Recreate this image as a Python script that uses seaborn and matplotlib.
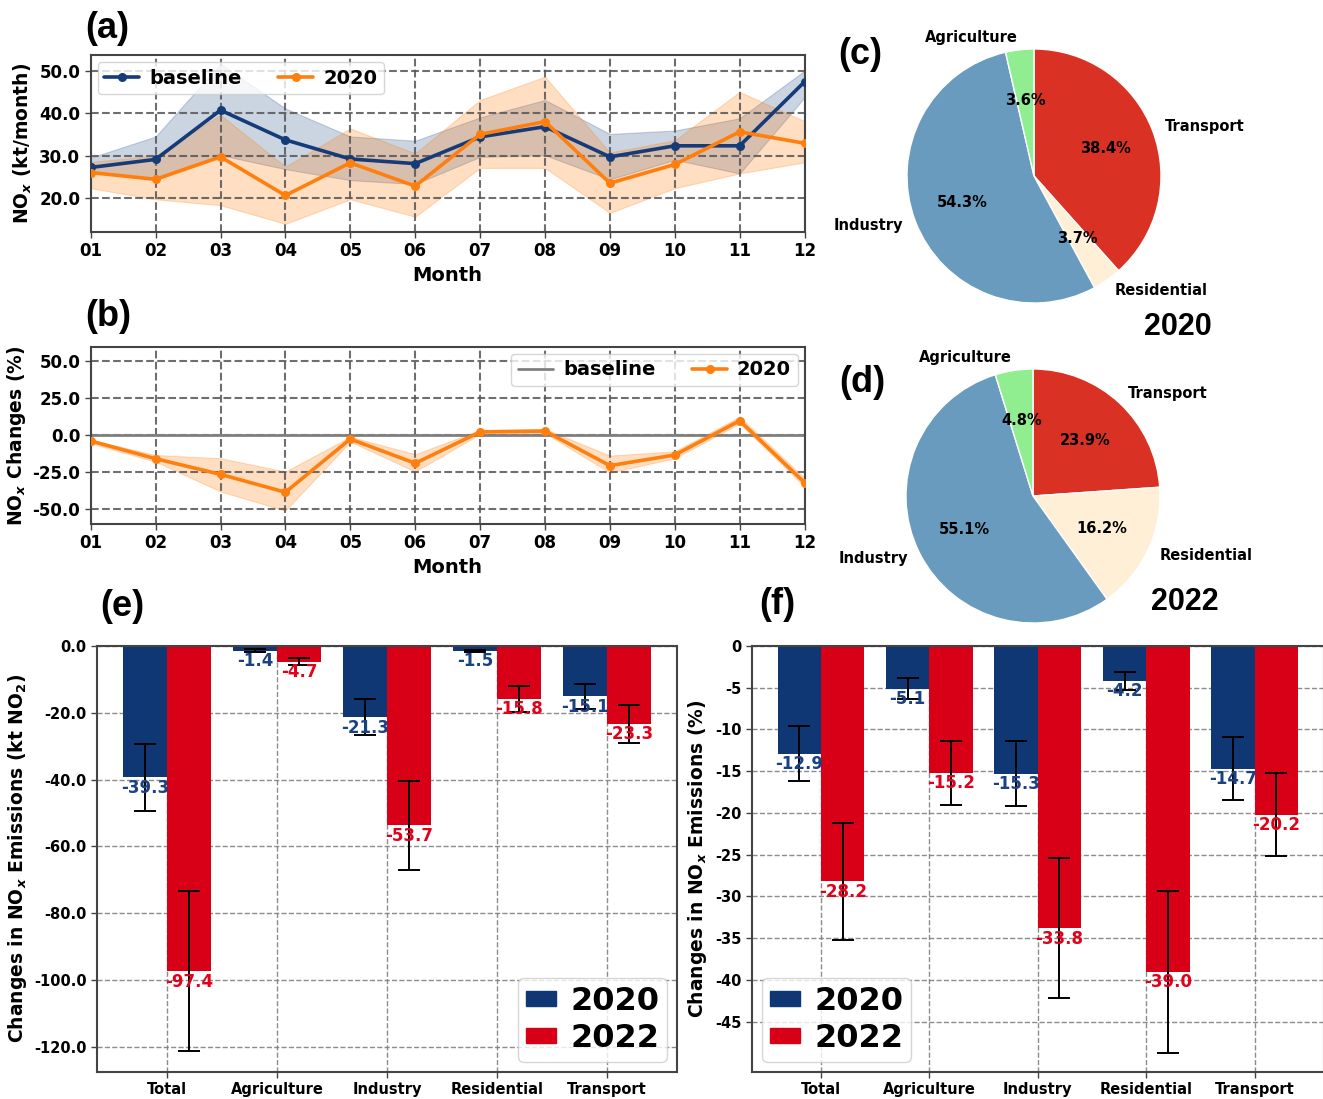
import numpy as np
import pandas as pd
import matplotlib
matplotlib.use("Agg")
import matplotlib.pyplot as plt
from matplotlib.patches import Patch
from matplotlib.ticker import FormatStrFormatter
import seaborn as sns

# ---------------- monthly NOx emissions (kt/month) ----------------
months = np.arange(1, 13)
month_labels = ["01", "02", "03", "04", "05", "06", "07", "08", "09", "10", "11", "12"]

base_mean = [27.2, 29.1, 40.7, 33.7, 29.2, 28.1, 34.4, 36.8, 29.7, 32.3, 32.3, 47.4]
base_hi = [29.5, 34.5, 51.6, 41.1, 34.5, 33.5, 39.0, 43.1, 35.1, 35.9, 38.8, 50.0]
base_lo = [26.2, 24.6, 30.1, 26.8, 24.2, 23.3, 29.7, 30.1, 24.4, 29.0, 25.8, 43.7]

y2020_mean = [26.0, 24.4, 29.7, 20.6, 28.3, 22.8, 35.0, 38.0, 23.5, 27.9, 35.6, 32.9]
y2020_hi = [28.5, 30.0, 39.6, 27.4, 36.4, 30.5, 43.1, 48.6, 30.7, 33.6, 45.0, 38.1]
y2020_lo = [22.3, 19.7, 18.3, 13.9, 19.7, 15.6, 27.1, 27.1, 16.5, 22.3, 25.8, 28.4]

# ---------------- relative change 2020 vs baseline (%) ----------------
change_mean = [-3.8, -15.8, -26.4, -38.5, -2.5, -18.9, 2.3, 2.9, -20.5, -13.3, 9.9, -32.0]
change_hi = [-3.0, -13.3, -15.5, -24.5, -1.0, -12.8, 3.6, 4.3, -13.7, -10.8, 12.6, -29.0]
change_lo = [-5.4, -17.8, -38.0, -50.9, -4.3, -24.5, 0.9, 1.4, -25.2, -15.5, 8.1, -34.7]

# ---------------- sector shares (%) ----------------
pie_labels = ["Transport", "Residential", "Industry", "Agriculture"]
share_2020 = [38.4, 3.7, 54.3, 3.6]
share_2022 = [23.9, 16.2, 55.1, 4.8]
pie_colors = ["#D93225", "#FEEFD6", "#689BBD", "#90EE90"]

# ---------------- emission changes by sector ----------------
sectors = ["Total", "Agriculture", "Industry", "Residential", "Transport"]
abs_2020 = [-39.3, -1.4, -21.3, -1.5, -15.1]
abs_2022 = [-97.4, -4.7, -53.7, -15.8, -23.3]
abs_err_2020 = [10.0, 0.4, 5.4, 0.4, 3.8]
abs_err_2022 = [24.0, 1.1, 13.3, 3.9, 5.7]

pct_2020 = [-12.9, -5.1, -15.3, -4.2, -14.7]
pct_2022 = [-28.2, -15.2, -33.8, -39.0, -20.2]
pct_err_2020 = [3.3, 1.3, 3.9, 1.05, 3.75]
pct_err_2022 = [7.0, 3.8, 8.4, 9.7, 5.0]

NAVY = "#153C78"
ORANGE = "#FF7F0E"
BAR_2020 = "#0F3773"
BAR_2022 = "#D80016"
TXT_2020 = "#1A4282"
TXT_2022 = "#E2001A"

sns.set_style("ticks")
plt.rcParams["font.family"] = ["DejaVu Sans"]
plt.rcParams["font.weight"] = "bold"
plt.rcParams["axes.labelweight"] = "bold"
plt.rcParams["mathtext.default"] = "it"
for key in ("text.color", "axes.labelcolor", "xtick.labelcolor", "ytick.labelcolor"):
    plt.rcParams[key] = "black"

W, H, DPI = 1323, 1099, 100
fig = plt.figure(figsize=(W / DPI, H / DPI), dpi=DPI)


def axes_px(left, top, right, bottom):
    return fig.add_axes([left / W, 1 - bottom / H, (right - left) / W, (bottom - top) / H])


def style_month_axes(ax, ylabel, label_x):
    ax.grid(True, ls="--", color="#555555", lw=1.5, alpha=0.85)
    ax.set_axisbelow("line")
    for s in ax.spines.values():
        s.set_visible(True)
        s.set_color("#444444")
        s.set_linewidth(1.5)
    ax.tick_params(labelsize=12, length=4, width=1, color="#444444", labelcolor="black")
    ax.set_xlim(1, 12)
    ax.set_xticks(months)
    ax.set_xticklabels(month_labels)
    ax.set_xlabel("Month", fontsize=14)
    ax.set_ylabel(ylabel, fontsize=13.5)
    ax.yaxis.set_label_coords(label_x, 0.5)
    ax.yaxis.set_major_formatter(FormatStrFormatter("%.1f"))


line_legend = dict(ncol=2, fontsize=14, borderaxespad=0.35, columnspacing=1.9,
                   handlelength=1.8, handletextpad=0.5, borderpad=0.35,
                   framealpha=0.8, edgecolor="#cccccc")

# ---------------- (a) monthly emissions ----------------
ax_a = axes_px(90.7, 55, 804.6, 231.7)
ax_a.fill_between(months, base_lo, base_hi, color=NAVY, alpha=0.22, lw=0.8, zorder=1)
ax_a.fill_between(months, y2020_lo, y2020_hi, color=ORANGE, alpha=0.25, lw=0.8, zorder=1)
df_a = pd.DataFrame({
    "Month": np.concatenate([months, months]),
    "NOx": base_mean + y2020_mean,
    "Case": ["baseline"] * 12 + ["2020"] * 12,
})
sns.lineplot(data=df_a, x="Month", y="NOx", hue="Case", hue_order=["baseline", "2020"],
             palette={"baseline": NAVY, "2020": ORANGE}, marker="o", markersize=6.5,
             markeredgewidth=0, linewidth=2.6, legend=False, ax=ax_a, zorder=3)
ax_a.set_ylim(12.06, 53.7)
ax_a.set_yticks([20, 30, 40, 50])
style_month_axes(ax_a, r"NO$_x$ (kt/month)", (34 - 90.7) / 713.9)
ax_a.legend(handles=ax_a.lines[:2], labels=["baseline", "2020"], loc="upper left", **line_legend)

# ---------------- (b) relative changes ----------------
ax_b = axes_px(90.7, 346.7, 804.6, 524)
ax_b.axhline(0, color="#808080", lw=2, zorder=2)
ax_b.fill_between(months, change_lo, change_hi, color=ORANGE, alpha=0.25, lw=0.8, zorder=1)
sns.lineplot(x=months, y=change_mean, color=ORANGE, marker="o", markersize=6.5,
             markeredgewidth=0, linewidth=2.6, ax=ax_b, zorder=3)
ax_b.set_ylim(-60, 60)
ax_b.set_yticks([-50, -25, 0, 25, 50])
style_month_axes(ax_b, r"NO$_x$ Changes (%)", (28 - 90.7) / 713.9)
ax_b.legend(handles=ax_b.lines[:2], labels=["baseline", "2020"], loc="upper right", **line_legend)

# ---------------- (c), (d) sector shares ----------------
for shares, (cx, cy) in ((share_2020, (1034, 176)), (share_2022, (1033, 496))):
    r = 127
    ax = axes_px(cx - 1.25 * r, cy - 1.25 * r, cx + 1.25 * r, cy + 1.25 * r)
    ax.pie(shares, labels=pie_labels, colors=pie_colors, startangle=90, counterclock=False,
           autopct="%1.1f%%", pctdistance=0.6, labeldistance=1.1,
           textprops=dict(fontsize=10.5, fontweight="bold", color="black"))
    ax.set_xlim(-1.25, 1.25)
    ax.set_ylim(-1.25, 1.25)
    ax.set_aspect("equal")


# ---------------- (e), (f) sector changes ----------------
def bar_panel(ax, v20, v22, e20, e22, ylim, yticks, fmt, ylabel, label_x, legend_loc):
    df = pd.DataFrame({
        "Sector": sectors * 2,
        "Change": list(v20) + list(v22),
        "Year": ["2020"] * 5 + ["2022"] * 5,
    })
    sns.barplot(data=df, x="Sector", y="Change", hue="Year", hue_order=["2020", "2022"],
                palette={"2020": BAR_2020, "2022": BAR_2022}, saturation=1, errorbar=None,
                width=0.8, linewidth=0, legend=False, ax=ax)
    for cont, vals, errs, tcol in zip(ax.containers, (v20, v22), (e20, e22), (TXT_2020, TXT_2022)):
        xs = [p.get_x() + p.get_width() / 2 for p in cont]
        ax.errorbar(xs, vals, yerr=errs, fmt="none", ecolor="black", elinewidth=1.4,
                    capsize=8, capthick=1.4, zorder=4)
        for x, v in zip(xs, vals):
            ax.annotate(f"{v:.1f}", xy=(x, v), xytext=(0, -1), textcoords="offset points",
                        ha="center", va="top", color=tcol, fontsize=12, fontweight="bold",
                        zorder=5)
    ax.set_xlim(-0.636, 4.636)
    ax.set_ylim(*ylim)
    ax.set_yticks(yticks)
    ax.yaxis.set_major_formatter(FormatStrFormatter(fmt))
    ax.grid(True, ls="--", color="#808080", lw=1, alpha=0.9)
    ax.set_axisbelow(True)
    for s in ax.spines.values():
        s.set_visible(True)
        s.set_color("#444444")
        s.set_linewidth(1.5)
    ax.tick_params(labelsize=10.5, length=4, width=1, color="#444444", labelcolor="black")
    ax.set_xlabel("")
    ax.set_ylabel(ylabel, fontsize=13.5)
    ax.yaxis.set_label_coords(label_x, 0.5)
    ax.legend(handles=[Patch(color=BAR_2020), Patch(color=BAR_2022)], labels=["2020", "2022"],
              loc=legend_loc, fontsize=23, handlelength=0.95, handleheight=0.35,
              handletextpad=0.45, borderpad=0.25, labelspacing=0.2, borderaxespad=0.3,
              framealpha=0.8, edgecolor="#cccccc")


ax_e = axes_px(97, 646, 677, 1071.7)
bar_panel(ax_e, abs_2020, abs_2022, abs_err_2020, abs_err_2022, (-127.5, 0),
          np.arange(0, -121, -20), "%.1f", r"Changes in NO$_x$ Emissions (kt NO$_2$)",
          (29 - 97) / 580, "lower right")

ax_f = axes_px(752, 646, 1323.6, 1071.7)
bar_panel(ax_f, pct_2020, pct_2022, pct_err_2020, pct_err_2022, (-51, 0),
          np.arange(0, -46, -5), "%d", r"Changes in NO$_x$ Emissions (%)",
          (709 - 752) / 571.6, "lower left")

# ---------------- panel tags ----------------
tag_font = dict(fontsize=26, fontweight="bold", family=["Liberation Sans", "DejaVu Sans"],
                color="black", ha="center", va="center")
for tag, (x, y) in {"(a)": (107, 28), "(b)": (108, 316), "(c)": (860, 55),
                    "(d)": (862, 383), "(e)": (122, 607), "(f)": (777, 605)}.items():
    fig.text(x / W, 1 - y / H, tag, **tag_font)
year_font = dict(fontsize=22, fontweight="bold", family=["Liberation Sans", "DejaVu Sans"],
                 color="black", ha="center", va="center")
fig.text(1178 / W, 1 - 327 / H, "2020", **year_font)
fig.text(1185 / W, 1 - 602 / H, "2022", **year_font)

fig.savefig("out.png", dpi=DPI)
